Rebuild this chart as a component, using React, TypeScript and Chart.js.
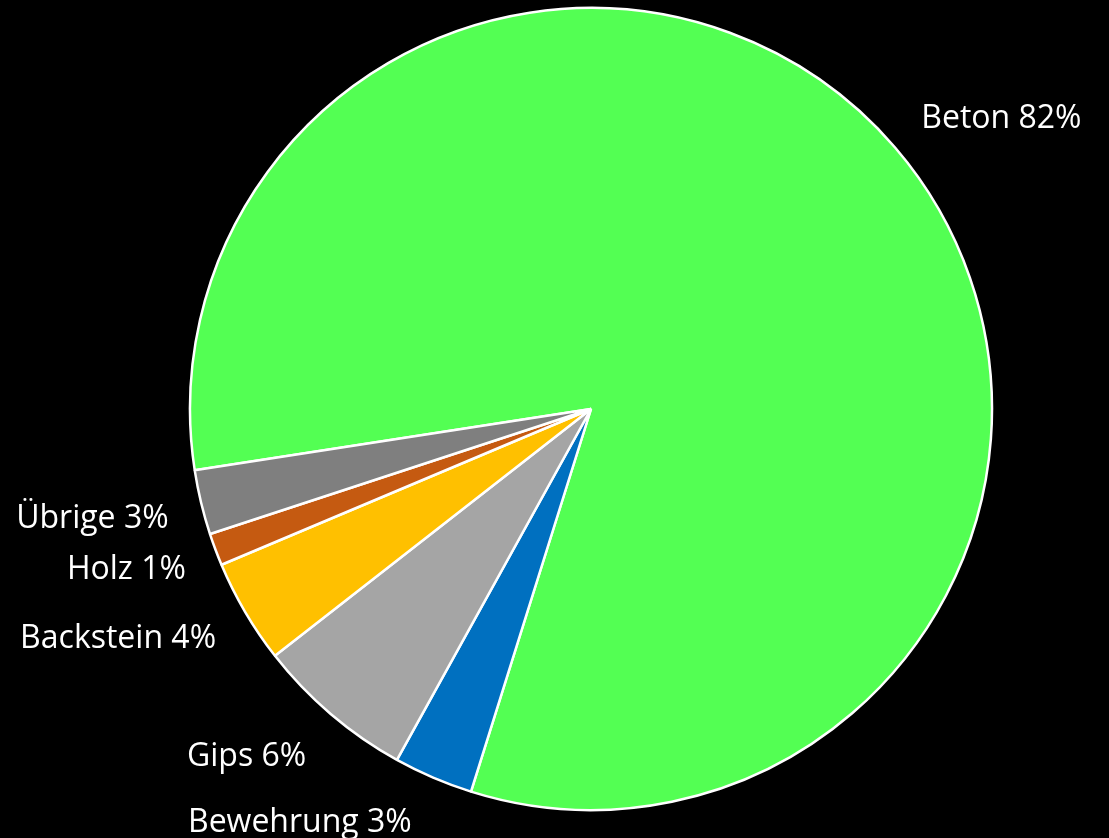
import React, { useEffect, useRef } from "react";
import { Chart, registerables } from "chart.js";

Chart.register(...registerables);

const categories = ["Beton", "Bewehrung", "Gips", "Backstein", "Holz", "Übrige"];
const values = [82.2, 3.2, 6.4, 4.2, 1.3, 2.6];
const colors = ["#53FF53", "#0070C0", "#A5A5A5", "#FFC000", "#C55A11", "#7F7F7F"];

// label placement relative to each slice: extra angle (deg) from mid-angle and distance in radii
const labelAngleShift = [5.2, 12.1, 4.4, 4.7, 1.7, 1.3];
const labelDistance = [1.257, 1.257, 1.217, 1.309, 1.224, 1.272];

const FONT_SIZE = 32;
const FONT_FAMILY = "'Open Sans', sans-serif";

const labelPlugin = {
  id: "sliceLabels",
  afterDatasetsDraw(chart: any) {
    const meta = chart.getDatasetMeta(0);
    const data: number[] = chart.data.datasets[0].data;
    const total = data.reduce((a, b) => a + b, 0);
    const ctx = chart.ctx;
    ctx.save();
    ctx.fillStyle = "#FFFFFF";
    ctx.font = `${FONT_SIZE}px ${FONT_FAMILY}`;
    ctx.textAlign = "center";
    ctx.textBaseline = "alphabetic";
    const capH = FONT_SIZE * 0.714;
    meta.data.forEach((arc: any, i: number) => {
      const { x, y, startAngle, endAngle, outerRadius } = arc.getProps(
        ["x", "y", "startAngle", "endAngle", "outerRadius"],
        true
      );
      const a = (startAngle + endAngle) / 2 + (labelAngleShift[i] * Math.PI) / 180;
      const d = outerRadius * labelDistance[i];
      const lx = x + Math.cos(a) * d;
      const ly = y + Math.sin(a) * d;
      const pct = Math.round((data[i] / total) * 100);
      ctx.fillText(`${chart.data.labels[i]} ${pct}%`, lx, ly + capH / 2);
    });
    ctx.restore();
  },
};

export default function App() {
  const ref = useRef<HTMLCanvasElement | null>(null);
  useEffect(() => {
    if (!ref.current) return;
    const chart = new Chart(ref.current, {
      type: "pie",
      data: {
        labels: categories,
        datasets: [
          {
            data: values,
            backgroundColor: colors,
            borderColor: "#FFFFFF",
            borderWidth: 2.5,
          },
        ],
      },
      options: {
        responsive: false,
        animation: false,
        rotation: 261.2,
        radius: 401,
        layout: { padding: { left: 73, right: 0, top: 0, bottom: 20 } },
        plugins: {
          legend: { display: false },
          tooltip: { enabled: false },
        },
      },
      plugins: [labelPlugin],
    });
    return () => chart.destroy();
  }, []);
  return (
    <div
      style={{
        position: "fixed",
        left: 0,
        top: 0,
        width: 1109,
        height: 838,
        background: "#000000",
      }}
    >
      <canvas ref={ref} width={1109} height={838} style={{ display: "block" }} />
    </div>
  );
}
